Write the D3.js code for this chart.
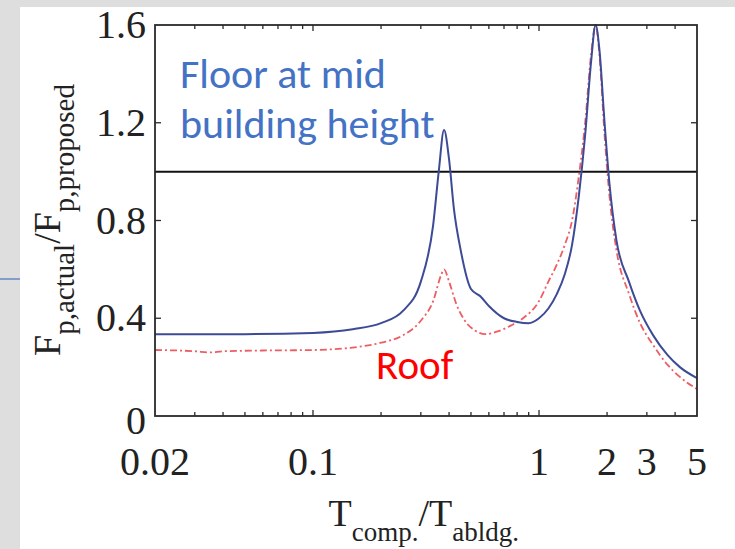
<!DOCTYPE html>
<html>
<head>
<meta charset="utf-8">
<script src="https://cdn.jsdelivr.net/npm/d3@7"></script>
<style>
  html, body { margin: 0; padding: 0; background: #e4e4e4; }
  svg { display: block; }
</style>
</head>
<body>
<svg id="chart" width="735" height="549"></svg>
<script>
// Period ratio T_comp./T_abldg. (log axis)
const floorT = [0.02, 0.05, 0.1, 0.15, 0.2, 0.25, 0.3, 0.34, 0.36, 0.38, 0.40, 0.42, 0.45, 0.5, 0.55, 0.6, 0.7, 0.8, 0.9, 1.0, 1.1, 1.2, 1.3, 1.4, 1.5, 1.6, 1.7, 1.78, 1.85, 1.95, 2.05, 2.2, 2.5, 2.8, 3.2, 3.7, 4.2, 5.0];
// Force ratio for the floor at mid building height
const floorF = [0.335, 0.335, 0.34, 0.355, 0.38, 0.43, 0.55, 0.78, 1.0, 1.17, 1.05, 0.85, 0.68, 0.52, 0.49, 0.45, 0.40, 0.385, 0.38, 0.40, 0.44, 0.50, 0.58, 0.70, 0.90, 1.15, 1.45, 1.6, 1.5, 1.2, 0.95, 0.72, 0.55, 0.43, 0.33, 0.25, 0.20, 0.155];

const roofT = [0.02, 0.03, 0.035, 0.04, 0.06, 0.1, 0.15, 0.2, 0.25, 0.3, 0.34, 0.37, 0.38, 0.40, 0.43, 0.47, 0.52, 0.58, 0.65, 0.75, 0.85, 1.0, 1.1, 1.2, 1.3, 1.4, 1.5, 1.6, 1.7, 1.78, 1.85, 1.95, 2.05, 2.2, 2.5, 2.8, 3.2, 3.7, 4.2, 5.0];
// Force ratio for the roof
const roofF = [0.27, 0.265, 0.26, 0.265, 0.268, 0.27, 0.28, 0.30, 0.33, 0.39, 0.47, 0.58, 0.60, 0.55, 0.46, 0.39, 0.35, 0.335, 0.345, 0.37, 0.40, 0.47, 0.55, 0.62, 0.70, 0.80, 0.98, 1.2, 1.48, 1.6, 1.48, 1.15, 0.9, 0.68, 0.50, 0.38, 0.29, 0.21, 0.16, 0.11];

const xTickValues = [0.02, 0.1, 1, 2, 3, 5];
const xTickLabels = ["0.02", "0.1", "1", "2", "3", "5"];
const xMinorTicks = [0.03, 0.04, 0.05, 0.06, 0.07, 0.08, 0.09, 0.2, 0.3, 0.4, 0.5, 0.6, 0.7, 0.8, 0.9, 2, 3, 4];
const yTickValues = [0, 0.4, 0.8, 1.2, 1.6];
const referenceLevel = 1.0;

const svg = d3.select("#chart");
const L = 155, R = 697, T = 25, B = 416;

// slide background: grey margin with a white card
svg.append("rect").attr("x", 0).attr("y", 0).attr("width", 735).attr("height", 549).attr("fill", "#dedede");
svg.append("rect").attr("x", 20).attr("y", 7).attr("width", 715).attr("height", 542).attr("fill", "#ffffff");
svg.append("line").attr("x1", 0).attr("x2", 20).attr("y1", 279).attr("y2", 279)
  .attr("stroke", "#4472C4").attr("stroke-width", 1.2);

const x = d3.scaleLog().domain([0.02, 5]).range([L, R]);
const y = d3.scaleLinear().domain([0, 1.6]).range([B, T]);

const serif = "'Liberation Serif', 'Times New Roman', serif";
const frameColor = "#2a2a2a";

// tick marks (inward) on all four sides
const tickG = svg.append("g").attr("stroke", frameColor).attr("stroke-width", 1.3);
xMinorTicks.concat([0.1, 1]).forEach(v => {
  const len = (v === 0.1 || v === 1) ? 6 : 4;
  tickG.append("line").attr("x1", x(v)).attr("x2", x(v)).attr("y1", B).attr("y2", B - len);
  tickG.append("line").attr("x1", x(v)).attr("x2", x(v)).attr("y1", T).attr("y2", T + len);
});
[0.4, 0.8, 1.2].forEach(v => {
  tickG.append("line").attr("x1", L).attr("x2", L + 6).attr("y1", y(v)).attr("y2", y(v));
  tickG.append("line").attr("x1", R).attr("x2", R - 6).attr("y1", y(v)).attr("y2", y(v));
});

// reference line at ratio 1.0
svg.append("line").attr("x1", L).attr("x2", R).attr("y1", y(referenceLevel)).attr("y2", y(referenceLevel))
  .attr("stroke", "#111").attr("stroke-width", 2);

const line = d3.line().x(d => x(d[0])).y(d => y(d[1])).curve(d3.curveMonotoneX);

// roof curve (dash-dot red)
svg.append("path").datum(d3.zip(roofT, roofF)).attr("d", line)
  .attr("fill", "none").attr("stroke", "#e8343c").attr("stroke-width", 1.8)
  .attr("stroke-opacity", 0.8).attr("stroke-dasharray", "7,3,2,3");

// floor at mid-height curve (solid blue)
svg.append("path").datum(d3.zip(floorT, floorF)).attr("d", line)
  .attr("fill", "none").attr("stroke", "#3d4a96").attr("stroke-width", 2);

// frame
svg.append("rect").attr("x", L).attr("y", T).attr("width", R - L).attr("height", B - T)
  .attr("fill", "none").attr("stroke", frameColor).attr("stroke-width", 1.8);

// y tick labels
svg.append("g").selectAll("text").data(yTickValues).join("text")
  .attr("x", 146).attr("y", d => d === 0 ? y(d) + 18 : y(d) + 13)
  .attr("text-anchor", "end").attr("font-family", serif).attr("font-size", 40).attr("fill", "#222")
  .text(d => d === 0 ? "0" : d3.format(".1f")(d));

// x tick labels
svg.append("g").selectAll("text").data(xTickValues).join("text")
  .attr("x", d => x(d)).attr("y", 475)
  .attr("text-anchor", "middle").attr("font-family", serif).attr("font-size", 40).attr("fill", "#222")
  .text((d, i) => xTickLabels[i]);

// x axis title: T_comp./T_abldg.
const xt = svg.append("text").attr("x", x(0.3) + 3).attr("y", 526).attr("text-anchor", "middle")
  .attr("font-family", serif).attr("font-size", 38).attr("fill", "#222");
xt.append("tspan").text("T");
xt.append("tspan").attr("dy", 15).attr("font-size", 27).text("comp.");
xt.append("tspan").attr("dy", -15).text("/T");
xt.append("tspan").attr("dy", 15).attr("font-size", 27).text("abldg.");

// y axis title: F_p,actual / F_p,proposed
const yt = svg.append("text").attr("transform", "translate(60,220) rotate(-90)").attr("text-anchor", "middle")
  .attr("font-family", serif).attr("font-size", 38).attr("fill", "#222");
yt.append("tspan").text("F");
yt.append("tspan").attr("dy", 14).attr("font-size", 29).text("p,actual");
yt.append("tspan").attr("dy", -14).text("/F");
yt.append("tspan").attr("dy", 14).attr("font-size", 29).text("p,proposed");

// series annotations
const sans = "Carlito, Lato, 'Open Sans', sans-serif";
const ann = svg.append("text").attr("font-family", sans).attr("font-size", 42).attr("fill", "#4472C4");
ann.append("tspan").attr("x", 180).attr("y", 88).text("Floor at mid");
ann.append("tspan").attr("x", 180).attr("y", 138).text("building height");
svg.append("text").attr("x", 376).attr("y", 379).attr("font-family", sans).attr("font-size", 41)
  .attr("fill", "#ff0000").text("Roof");
</script>
</body>
</html>
